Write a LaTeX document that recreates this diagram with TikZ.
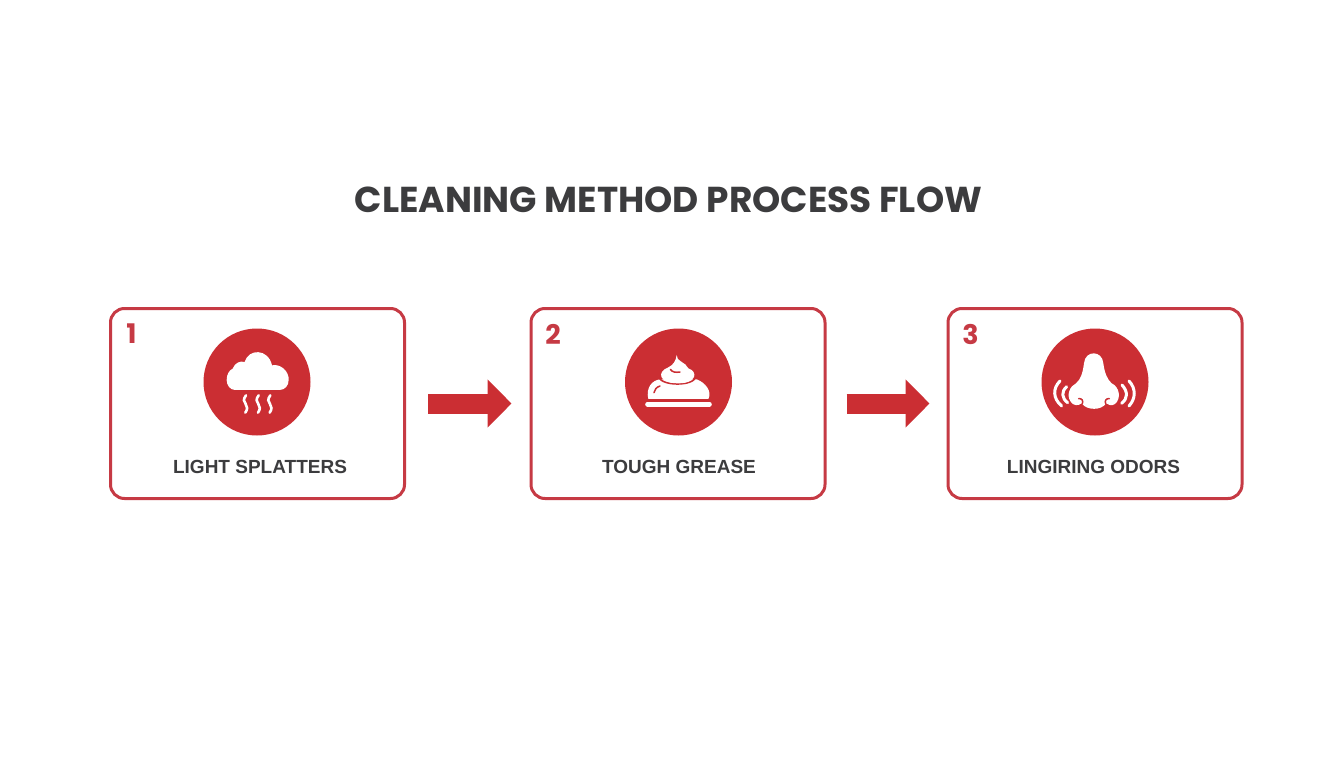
\documentclass[tikz,border=0pt]{standalone}
\usepackage{fontspec}
\setmainfont{Liberation Sans}
\newfontfamily\headfont{Poppins}
\usetikzlibrary{arrows.meta}
\definecolor{redm}{HTML}{CB2E33}
\definecolor{redb}{HTML}{C63A44}
\definecolor{ink}{HTML}{3C3C3E}
\tikzset{
  card/.style={draw=redb,line width=3pt,rounded corners=14pt,fill=white,minimum width=294pt,minimum height=190pt,inner sep=0pt},
  disc/.style={circle,fill=redm,minimum size=107pt,inner sep=0pt},
  num/.style={text=redb,font=\headfont\fontsize{27}{27}\selectfont\bfseries,inner sep=0pt},
  lbl/.style={text=ink,font=\fontsize{19}{19}\selectfont\bfseries,inner sep=0pt},
  ttl/.style={text=ink,font=\headfont\fontsize{36}{36}\selectfont\bfseries,inner sep=0pt},
  flow/.style={draw=redm,line width=20pt,-{Triangle[length=24pt,width=47pt]}},
  wave/.style={draw=white,line width=2.6pt,line cap=round},
  slit/.style={draw=redm,line width=1.5pt,line cap=round},
}
\begin{document}
\begin{tikzpicture}[x=1pt,y=-1pt]
\useasboundingbox (0,0) rectangle (1344,768);
\fill[white] (0,0) rectangle (1344,768);
\node[ttl] (title) at (668.5,200) {\resizebox{627pt}{\height}{CLEANING METHOD PROCESS FLOW}};
\node[card] (b1) at (257.5,403.5) {};
\node[card] (b2) at (678,403.5) {};
\node[card] (b3) at (1095,403.5) {};
\node[num] (n1) at (131.5,334) {1};
\node[num] (n2) at (553,334) {2};
\node[num] (n3) at (970.5,334) {3};
\node[disc] (c1) at (257,382) {};
\node[disc] (c2) at (678.5,382) {};
\node[disc] (c3) at (1095,382) {};
\node[lbl] (l1) at (260,467) {LIGHT SPLATTERS};
\node[lbl] (l2) at (679,467) {TOUGH GREASE};
\node[lbl] (l3) at (1093.5,467) {LINGIRING ODORS};
\draw[flow,shorten <=22pt,shorten >=18pt] (b1.east) -- (b2.west);
\draw[flow,shorten <=20pt,shorten >=17pt] (b2.east) -- (b3.west);
% cloud
\begin{scope}[shift={(190,320)},x=0.3333pt,y=-0.3333pt]
\fill[white] (135,210) .. controls (120,210) and (110,195) .. (110,180)
  .. controls (110,163) and (118,150) .. (128,146)
  .. controls (135,128) and (150,122) .. (164,126)
  .. controls (175,85) and (235,85) .. (246,136)
  .. controls (272,130) and (298,155) .. (296,180)
  .. controls (296,197) and (285,210) .. (268,210) -- cycle;
\foreach \xx in {167,205,240}{
  \draw[wave] (\xx+1,226) .. controls (\xx-8,238) and (\xx-6,245) .. (\xx,252) .. controls (\xx+6,260) and (\xx+6,268) .. (\xx-1,278);
}
\end{scope}
% grease
\begin{scope}[shift={(615,320)},x=0.3333pt,y=-0.3333pt]
\fill[white] (100,237) .. controls (92,205) and (110,178) .. (140,178) -- (245,178)
 .. controls (272,188) and (292,215) .. (280,237) -- cycle;
\draw[redm,line width=1.6pt,line cap=round] (132,172) .. controls (140,198) and (235,200) .. (243,170);
\fill[white] (185,105) .. controls (183,125) and (212,125) .. (220,145)
 .. controls (250,155) and (245,190) .. (190,190)
 .. controls (130,190) and (125,155) .. (160,142) .. controls (175,135) and (183,122) .. (185,105) -- cycle;
\draw[slit] (166,148) .. controls (172,157) and (182,158) .. (195,156);
\draw[slit] (117,218) .. controls (119,208) and (124,202) .. (135,198);
\draw[white,line width=5pt,line cap=round] (98,252.5) -- (283,252.5);
\end{scope}
% nose
\begin{scope}[shift={(1030,320)},x=0.3333pt,y=-0.3333pt]
\fill[white] (162,130) .. controls (165,90) and (217,90) .. (220,130)
 .. controls (224,160) and (232,178) .. (245,190)
 .. controls (268,200) and (275,235) .. (255,252)
 .. controls (245,258) and (235,256) .. (228,250)
 .. controls (215,272) and (170,272) .. (155,250)
 .. controls (145,258) and (130,258) .. (122,245)
 .. controls (108,225) and (120,198) .. (138,190)
 .. controls (152,178) and (158,160) .. (162,130) -- cycle;
\draw[slit] (146,236) .. controls (155,234) and (161,243) .. (157,251);
\draw[slit] (238,236) .. controls (229,234) and (223,243) .. (227,251);
\draw[wave,line width=3pt] (90,183) .. controls (68,205) and (68,235) .. (95,258);
\draw[wave,line width=3pt] (110,200) .. controls (93,215) and (95,235) .. (113,248);
\draw[wave,line width=3pt] (297,183) .. controls (318,205) and (318,235) .. (297,258);
\draw[wave,line width=3pt] (276,195) .. controls (294,215) and (294,235) .. (275,250);
\end{scope}
\end{tikzpicture}
\end{document}
